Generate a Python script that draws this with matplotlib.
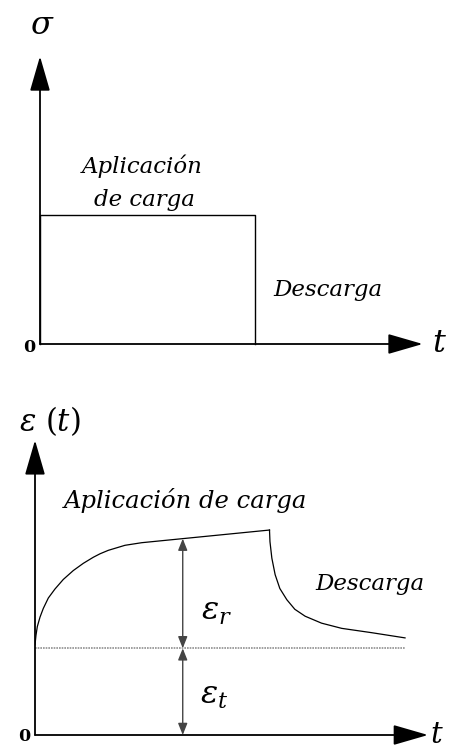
import matplotlib
matplotlib.use("Agg")
import matplotlib.pyplot as plt
import numpy as np

plt.rcParams["mathtext.fontset"] = "dejavuserif"

# Stress history: constant load applied from t=0 until unloading
t_unload = 5.0
stress_level = 1.0

# Strain response (time, strain)
creep_t = [0.0, 0.021, 0.049, 0.107, 0.177, 0.284, 0.426, 0.603, 0.817,
           1.030, 1.243, 1.386, 1.563, 1.919, 2.275, 5.0]
creep_eps = [1.04, 1.15, 1.25, 1.36, 1.46, 1.58, 1.684, 1.794, 1.897,
             1.980, 2.050, 2.090, 2.130, 2.188, 2.218, 2.364]
recov_t = [5.0, 5.01, 5.05, 5.12, 5.22, 5.37, 5.54, 5.76, 6.11, 6.54, 7.18, 7.89]
recov_eps = [2.364, 2.23, 2.04, 1.85, 1.69, 1.56, 1.45, 1.37, 1.29, 1.23, 1.18, 1.12]
eps_instant = 1.0
t_dim = 3.15

W, H = 449, 748
fig = plt.figure(figsize=(W / 100, H / 100), dpi=100)
fig.patch.set_facecolor("white")


def make_axes(x0, y0, px_x, px_y, xmax, ymax):
    # x0, y0: pixel location of the origin; px_x, px_y: pixels per data unit
    ax = fig.add_axes([x0 / W, (H - y0) / H, xmax * px_x / W, ymax * px_y / H])
    ax.set_xlim(0, xmax)
    ax.set_ylim(0, ymax)
    ax.axis("off")
    return ax


def axis_arrow(ax, x, y):
    ax.annotate("", xy=(x, y), xytext=(0, 0),
                arrowprops=dict(arrowstyle="-|>,head_length=1.45,head_width=0.42",
                                mutation_scale=15, color="black", lw=1.3,
                                shrinkA=0, shrinkB=0),
                annotation_clip=False)


word = dict(family="DejaVu Serif", style="italic", fontsize=16.5, color="black")
zero = dict(family="DejaVu Serif", weight="bold", fontsize=12.5, color="black")

# ---- stress vs time ----
ax1 = make_axes(40, 344, 43, 129, 9.5, 2.45)
axis_arrow(ax1, 8.9, 0)
axis_arrow(ax1, 0, 2.23)
ax1.plot([0, 0, t_unload, t_unload], [0, stress_level, stress_level, 0],
         color="black", lw=1.0, clip_on=False)
ax1.text(0.05, 2.47, r"$\sigma$", fontsize=23, ha="center", va="center")
ax1.text(2.38, 1.38, "Aplicación", ha="center", va="center", **word)
ax1.text(2.44, 1.12, "de carga", ha="center", va="center", **word)
ax1.text(6.70, 0.42, "Descarga", ha="center", va="center", **word)
ax1.text(-0.24, -0.03, "0", ha="center", va="center", **zero)
ax1.text(9.30, 0.0, r"$t$", fontsize=23, ha="center", va="center")

# ---- strain vs time ----
ax2 = make_axes(35, 735, 46.9, 86.7, 8.8, 3.55)
axis_arrow(ax2, 8.38, 0)
axis_arrow(ax2, 0, 3.40)
ax2.plot(creep_t, creep_eps, color="black", lw=0.9)
ax2.plot(recov_t, recov_eps, color="black", lw=0.9)
ax2.plot([0, recov_t[-1]], [eps_instant, eps_instant], color="#909090",
         lw=1.2, ls=(0, (1, 0.6)))

eps_top = np.interp(t_dim, creep_t, creep_eps)
dim = dict(arrowstyle="<|-|>,head_length=0.7,head_width=0.28", mutation_scale=10,
           color="#444444", lw=1.0, shrinkA=0, shrinkB=0)
ax2.annotate("", xy=(t_dim, eps_top), xytext=(t_dim, eps_instant), arrowprops=dim)
ax2.annotate("", xy=(t_dim, eps_instant), xytext=(t_dim, 0), arrowprops=dim)

ax2.text(0.32, 3.62, r"$\varepsilon\ (t)$", fontsize=22, ha="center", va="center")
ax2.text(3.22, 2.70, "Aplicación de carga", ha="center", va="center",
         **{**word, "fontsize": 17.5})
ax2.text(7.14, 1.74, "Descarga", ha="center", va="center", **word)
ax2.text(3.86, 1.43, r"$\varepsilon_r$", fontsize=23, ha="center", va="center")
ax2.text(3.82, 0.46, r"$\varepsilon_t$", fontsize=23, ha="center", va="center")
ax2.text(-0.22, -0.02, "0", ha="center", va="center", **zero)
ax2.text(8.57, 0.0, r"$t$", fontsize=21, ha="center", va="center")

fig.savefig("out.png", dpi=100, facecolor="white")
